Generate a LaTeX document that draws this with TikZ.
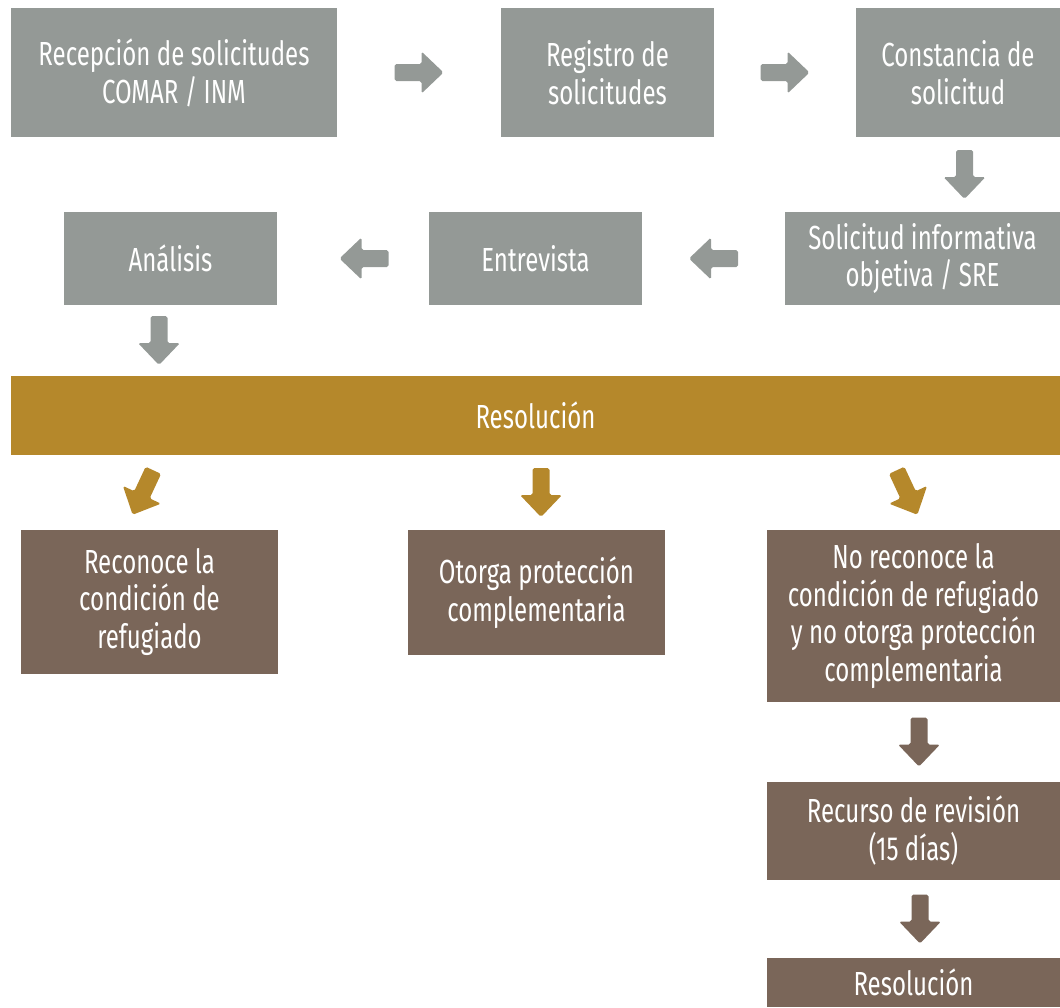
\documentclass[tikz,border=0pt]{standalone}
\usepackage{fontspec}
\setmainfont{Fira Sans}[FakeStretch=0.72]
\usepackage{tikz}
\usetikzlibrary{calc,positioning}

\definecolor{boxgray}{RGB}{148,153,150}
\definecolor{boxgold}{RGB}{181,136,43}
\definecolor{boxbrown}{RGB}{122,102,89}

\tikzset{
  box/.style={rectangle, inner sep=0pt, align=center, text=white,
    font=\fontsize{19}{21.6}\selectfont},
  graybox/.style={box, fill=boxgray},
  brownbox/.style={box, fill=boxbrown},
  pics/blockarrow/.style={code={
    \path[pic actions, rounded corners=1pt] (-0.49,-0.17) -- (0.05,-0.17) -- (0.05,-0.42)
      -- (0.49,0) -- (0.05,0.42) -- (0.05,0.17) -- (-0.49,0.17) -- cycle;}}
}

\begin{document}
\begin{tikzpicture}[line join=round]
\useasboundingbox (0,0) rectangle (21.2,-20.14);

% first row
\node[graybox, minimum width=6.52cm, minimum height=2.58cm] (recep) at (3.48,-1.45)
  {Recepción de solicitudes\\COMAR / INM};
\node[graybox, minimum width=4.26cm, minimum height=2.58cm] (regis) at (12.15,-1.45)
  {Registro de\\solicitudes};
\node[graybox, minimum width=4.08cm, minimum height=2.58cm] (const) at (19.16,-1.45)
  {Constancia de\\solicitud};

% second row
\node[graybox, minimum width=5.5cm, minimum height=1.86cm] (solic) at (18.45,-5.17)
  {Solicitud informativa\\objetiva / SRE};
\node[graybox, minimum width=4.26cm, minimum height=1.86cm] (entre) at (10.71,-5.17)
  {Entrevista};
\node[graybox, minimum width=4.26cm, minimum height=1.86cm] (anal) at (3.41,-5.17)
  {Análisis};

\node[box, fill=boxgold, minimum width=20.98cm, minimum height=1.58cm] (resol) at (10.71,-8.31)
  {Resolución};

% outcomes
\node[brownbox, minimum width=5.14cm, minimum height=2.88cm] (recon) at (2.99,-12.04)
  {Reconoce la\\condición de\\refugiado};
\node[brownbox, minimum width=5.14cm, minimum height=2.5cm] (otorga) at (10.73,-11.85)
  {Otorga protección\\complementaria};
\node[brownbox, minimum width=5.86cm, minimum height=3.44cm] (norec) at (18.27,-12.32)
  {No reconoce la\\condición de refugiado\\y no otorga protección\\complementaria};
\node[brownbox, minimum width=5.86cm, minimum height=1.96cm] (recur) at (18.27,-16.62)
  {Recurso de revisión\\(15 días)};
\node[brownbox, minimum width=5.86cm, minimum height=0.98cm] (final) at (18.27,-19.65)
  {Resolución};

% arrows
\pic[fill=boxgray] at ($(recep.east)!0.5!(regis.west)$) {blockarrow};
\pic[fill=boxgray] at ($(regis.east)!0.5!(const.west)$) {blockarrow};
\pic[fill=boxgray, rotate=-90] at ($(const.south)!0.5!(const.south |- solic.north)+(0.13,0)$) {blockarrow};
\pic[fill=boxgray, rotate=180] at ($(solic.west)!0.5!(entre.east)$) {blockarrow};
\pic[fill=boxgray, rotate=180] at ($(entre.west)!0.5!(anal.east)+(0.22,0)$) {blockarrow};
\pic[fill=boxgray, rotate=-90] at ($(anal.south)!0.5!(anal.south |- resol.north)+(-0.23,0)$) {blockarrow};

\pic[fill=boxgold, rotate=-115] at ($(recon.north)!0.5!(recon.north |- resol.south)+(-0.13,0)$) {blockarrow};
\pic[fill=boxgold, rotate=-90] at ($(otorga.north)!0.5!(otorga.north |- resol.south)+(0.09,0)$) {blockarrow};
\pic[fill=boxgold, rotate=-65] at ($(norec.north)!0.5!(norec.north |- resol.south)+(-0.13,0)$) {blockarrow};

\pic[fill=boxbrown, rotate=-90] at ($(norec.south)!0.5!(recur.north)+(0.11,0)$) {blockarrow};
\pic[fill=boxbrown, rotate=-90] at ($(recur.south)!0.5!(final.north)+(0.13,0)$) {blockarrow};
\end{tikzpicture}
\end{document}
